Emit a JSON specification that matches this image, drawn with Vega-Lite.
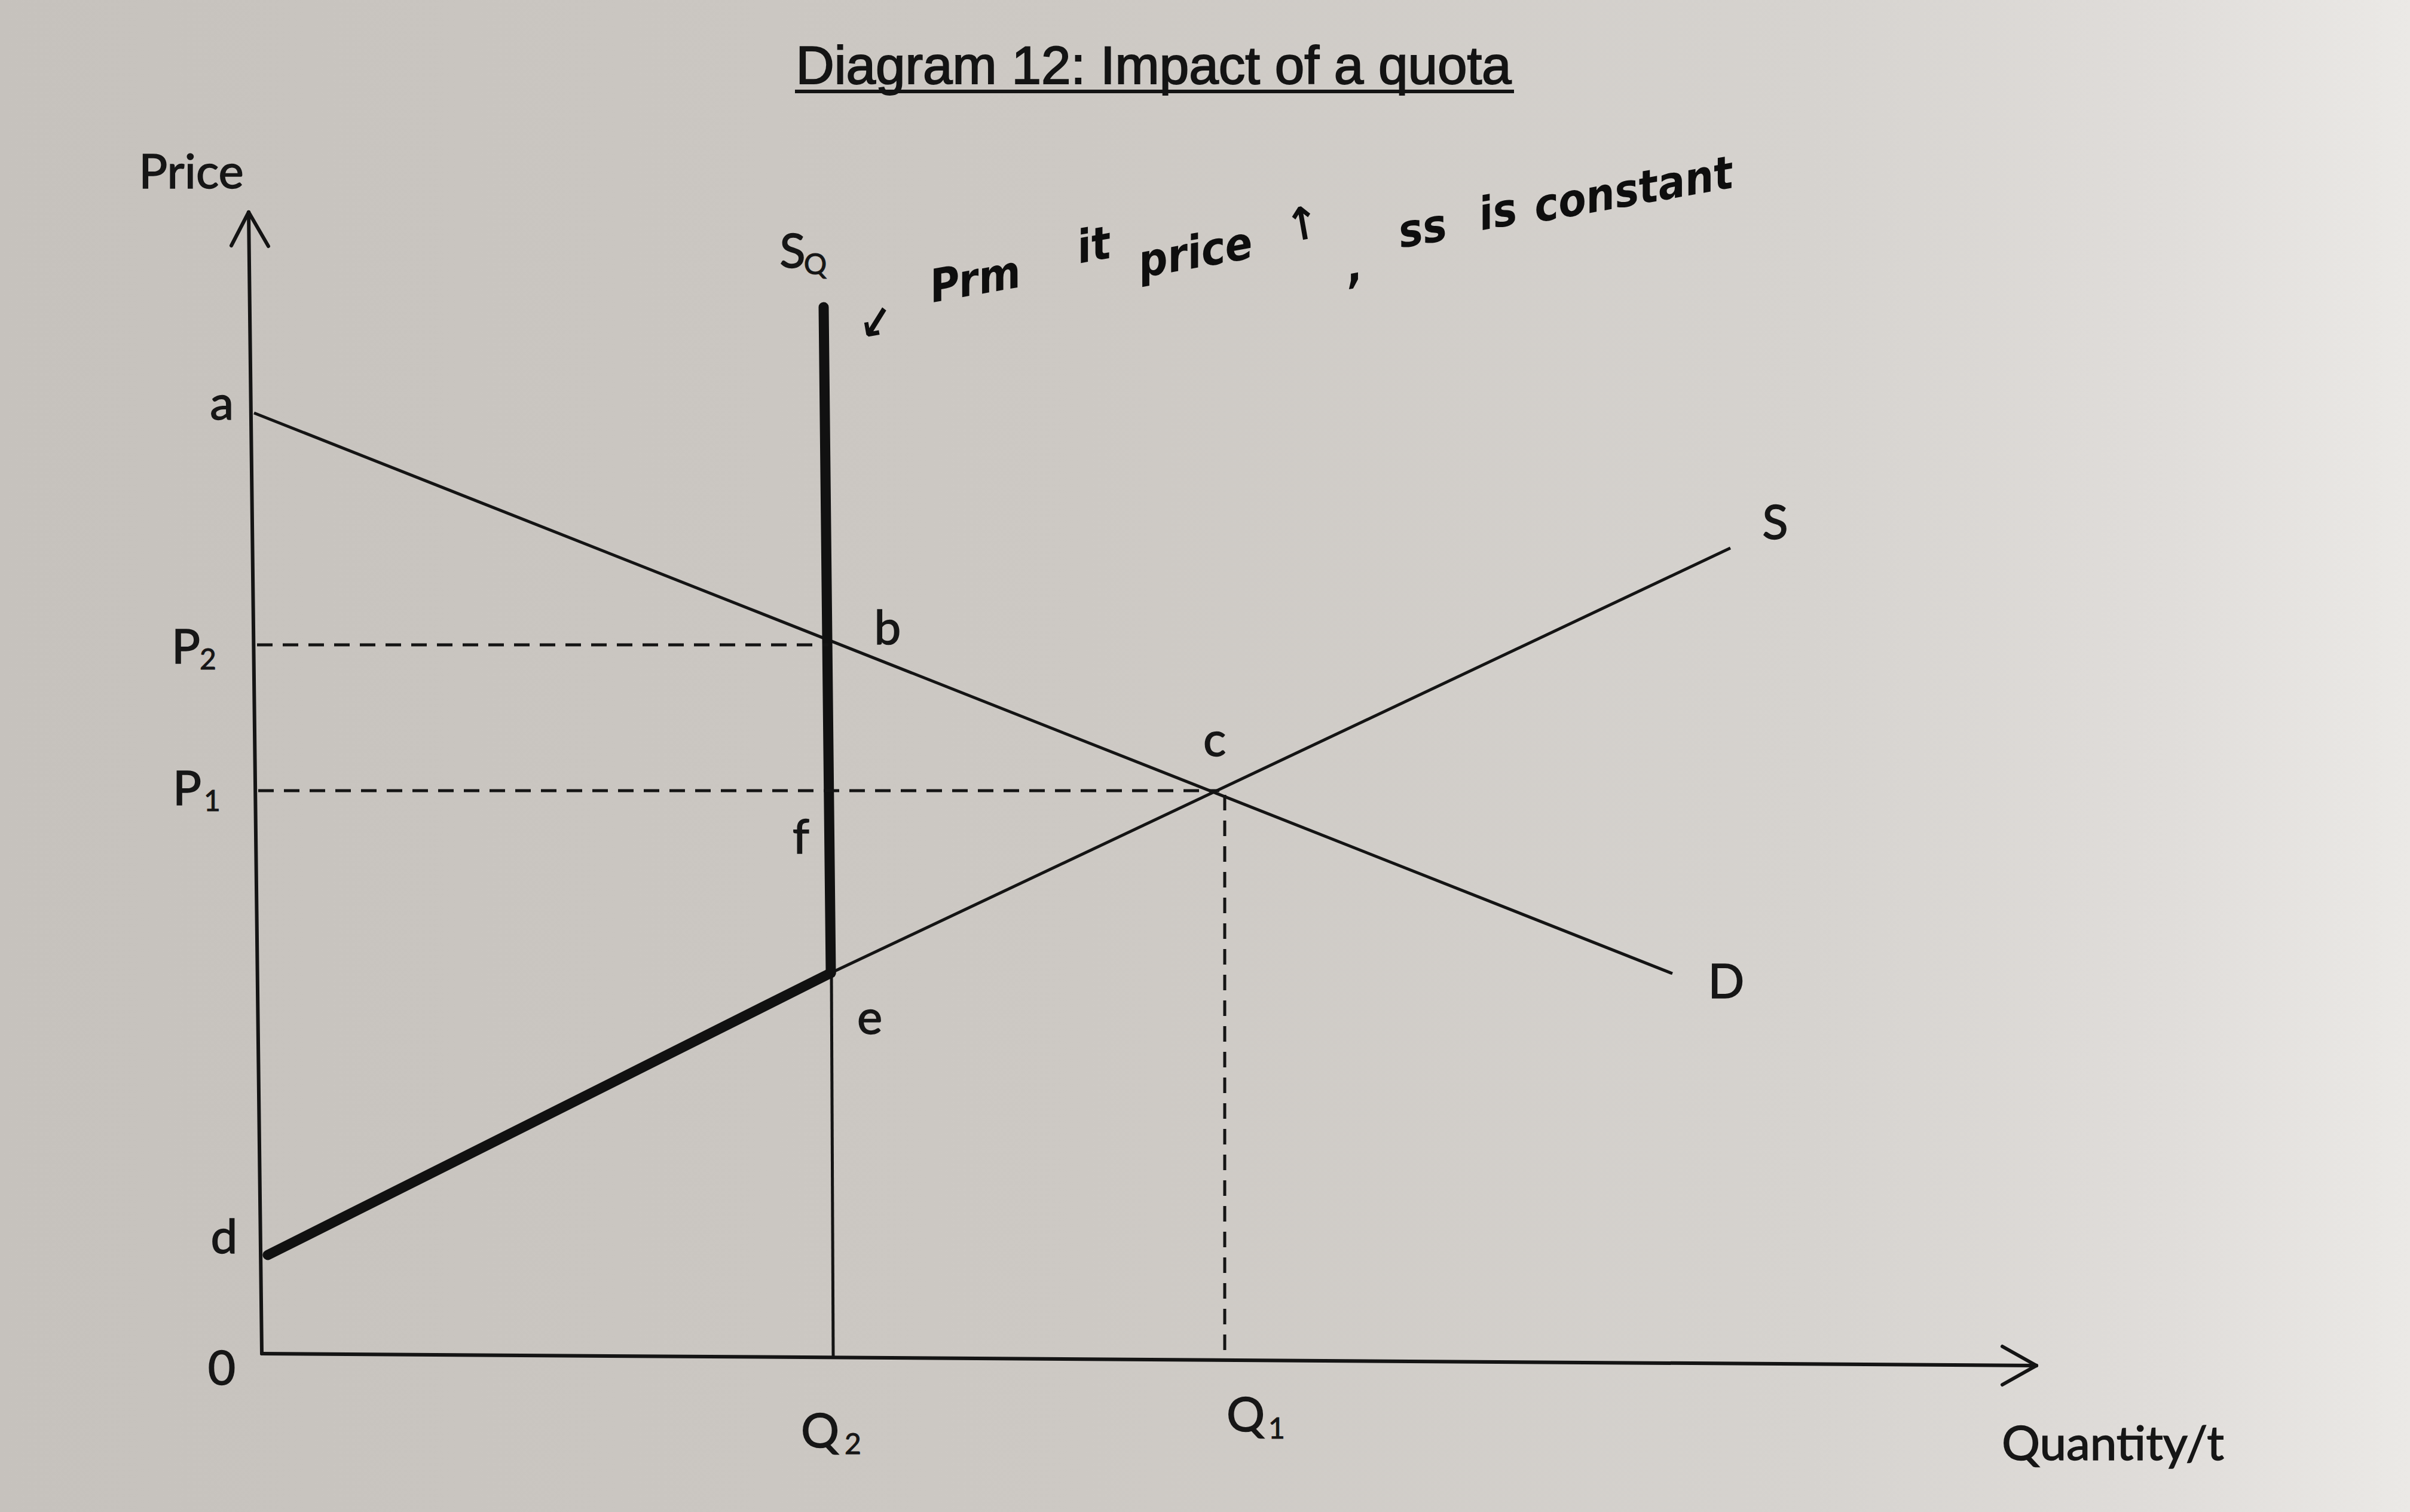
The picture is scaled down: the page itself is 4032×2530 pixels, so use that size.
{
  "$schema": "https://vega.github.io/schema/vega-lite/v6.json",
  "width": 4032,
  "height": 2530,
  "padding": 0,
  "autosize": {"type": "fit", "contains": "padding"},
  "background": "#d2cec9",
  "config": {
    "view": {
      "stroke": null,
      "fill": {
        "gradient": "linear",
        "x1": 0, "y1": 0, "x2": 1, "y2": 0,
        "stops": [
          {"offset": 0, "color": "#c6c2bd"},
          {"offset": 0.45, "color": "#cdc9c4"},
          {"offset": 0.75, "color": "#d6d3cf"},
          {"offset": 0.9, "color": "#e0ddda"},
          {"offset": 1, "color": "#ebe9e6"}
        ]
      }
    }
  },
  "datasets": {
    "axes": [
      {"part": "price axis", "q": 0, "p": 0, "q2": -2.2, "p2": 191.0},
      {"part": "price arrow left", "q": -2.2, "p": 191.0, "q2": -5.1, "p2": 185.4},
      {"part": "price arrow right", "q": -2.2, "p": 191.0, "q2": 1.1, "p2": 185.3},
      {"part": "quantity axis", "q": 0, "p": 0, "q2": 296.9, "p2": -2.0},
      {"part": "quantity arrow up", "q": 296.9, "p": -2.0, "q2": 291.2, "p2": 1.2},
      {"part": "quantity arrow down", "q": 296.9, "p": -2.0, "q2": 291.2, "p2": -5.2}
    ],
    "thin": [
      {"curve": "D", "q": -1.3, "p": 157.4, "q2": 236.0, "p2": 63.6},
      {"curve": "S above e", "q": 95.2, "p": 63.7, "q2": 245.7, "p2": 134.8},
      {"curve": "Q2 below e", "q": 95.3, "p": 63.7, "q2": 95.6, "p2": -0.5}
    ],
    "thick": [
      {"curve": "S below e (d to e)", "q": 1.0, "p": 16.5, "q2": 95.2, "p2": 63.7},
      {"curve": "Sq", "q": 94.0, "p": 175.1, "q2": 95.2, "p2": 63.7}
    ],
    "dashed": [
      {"guide": "P2", "q": -0.8, "p": 118.6, "q2": 94.8, "p2": 118.6},
      {"guide": "P1", "q": -0.6, "p": 94.2, "q2": 160.2, "p2": 94.2},
      {"guide": "Q1", "q": 161.1, "p": 93.5, "q2": 161.1, "p2": -1.0}
    ],
    "underline": [
      {"q": 89.2, "p": 211.2, "q2": 209.5, "p2": 211.2}
    ],
    "labels": [
      {"label": "Price", "q": -11.8, "p": 195.0},
      {"label": "a", "q": -6.7, "p": 156.3},
      {"label": "P", "q": -12.7, "p": 115.5},
      {"label": "P", "q": -12.5, "p": 91.8},
      {"label": "d", "q": -6.3, "p": 16.8},
      {"label": "0", "q": -6.7, "p": -5.2},
      {"label": "S", "q": 88.8, "p": 181.7},
      {"label": "b", "q": 104.7, "p": 118.7},
      {"label": "c", "q": 159.4, "p": 100.0},
      {"label": "f", "q": 90.2, "p": 83.7},
      {"label": "e", "q": 101.7, "p": 53.5},
      {"label": "Q", "q": 93.4, "p": -15.7},
      {"label": "Q", "q": 164.6, "p": -13.0},
      {"label": "S", "q": 253.2, "p": 136.3},
      {"label": "D", "q": 245.0, "p": 59.5},
      {"label": "Quantity/t", "q": 309.7, "p": -17.8}
    ],
    "subscript": [
      {"label": "Q", "q": 92.6, "p": 180.6},
      {"label": "2", "q": -9.0, "p": 114.5},
      {"label": "1", "q": -8.3, "p": 90.8},
      {"label": "2", "q": 98.9, "p": -16.8},
      {"label": "1", "q": 169.8, "p": -14.2}
    ],
    "title": [
      {"label": "Diagram 12: Impact of a quota", "q": 149.2, "p": 212.5}
    ],
    "handwriting": [
      {"label": "↙", "q": 102.8, "p": 172.2},
      {"label": "Prm", "q": 119.4, "p": 179.5},
      {"label": "it", "q": 139.2, "p": 185.2},
      {"label": "price", "q": 156.2, "p": 184.0},
      {"label": "↑", "q": 174.2, "p": 188.7},
      {"label": ",", "q": 182.8, "p": 181.7},
      {"label": "ss", "q": 194.2, "p": 188.0},
      {"label": "is", "q": 206.8, "p": 190.8},
      {"label": "constant", "q": 229.5, "p": 194.5}
    ]
  },
  "encoding": {
    "x": {"field": "q", "type": "quantitative", "axis": null,
          "scale": {"domain": [-43.8, 359.4], "nice": false, "zero": false}},
    "y": {"field": "p", "type": "quantitative", "axis": null,
          "scale": {"domain": [-26.5, 226.5], "nice": false, "zero": false}}
  },
  "layer": [
    {
      "data": {"name": "axes"},
      "mark": {"type": "rule", "stroke": "#141414", "strokeWidth": 6, "strokeCap": "round"},
      "encoding": {"x2": {"field": "q2"}, "y2": {"field": "p2"}}
    },
    {
      "data": {"name": "thin"},
      "mark": {"type": "rule", "stroke": "#141414", "strokeWidth": 5, "strokeCap": "butt"},
      "encoding": {"x2": {"field": "q2"}, "y2": {"field": "p2"}}
    },
    {
      "data": {"name": "thick"},
      "mark": {"type": "rule", "stroke": "#111111", "strokeWidth": 17, "strokeCap": "round"},
      "encoding": {"x2": {"field": "q2"}, "y2": {"field": "p2"}}
    },
    {
      "data": {"name": "dashed"},
      "mark": {"type": "rule", "stroke": "#141414", "strokeWidth": 5, "strokeDash": [26, 17]},
      "encoding": {"x2": {"field": "q2"}, "y2": {"field": "p2"}}
    },
    {
      "data": {"name": "underline"},
      "mark": {"type": "rule", "stroke": "#141414", "strokeWidth": 6},
      "encoding": {"x2": {"field": "q2"}, "y2": {"field": "p2"}}
    },
    {
      "data": {"name": "labels"},
      "mark": {"type": "text", "font": "Lato", "fontSize": 80, "color": "#161616", "stroke": "#161616", "strokeWidth": 1.5, "align": "center", "baseline": "alphabetic"},
      "encoding": {"text": {"field": "label"}}
    },
    {
      "data": {"name": "subscript"},
      "mark": {"type": "text", "font": "Lato", "fontSize": 48, "color": "#161616", "stroke": "#161616", "strokeWidth": 1, "align": "center", "baseline": "alphabetic"},
      "encoding": {"text": {"field": "label"}}
    },
    {
      "data": {"name": "title"},
      "mark": {"type": "text", "font": "Liberation Sans", "fontSize": 89, "color": "#141414", "stroke": "#141414", "strokeWidth": 2, "align": "center", "baseline": "alphabetic"},
      "encoding": {"text": {"field": "label"}}
    },
    {
      "data": {"name": "handwriting"},
      "mark": {"type": "text", "font": "Liberation Sans Narrow, DejaVu Sans Condensed, DejaVu Sans", "fontSize": 76, "fontStyle": "italic", "fontWeight": "bold", "color": "#0e0e0e", "align": "center", "baseline": "middle", "angle": -10},
      "encoding": {"text": {"field": "label"}}
    }
  ]
}
